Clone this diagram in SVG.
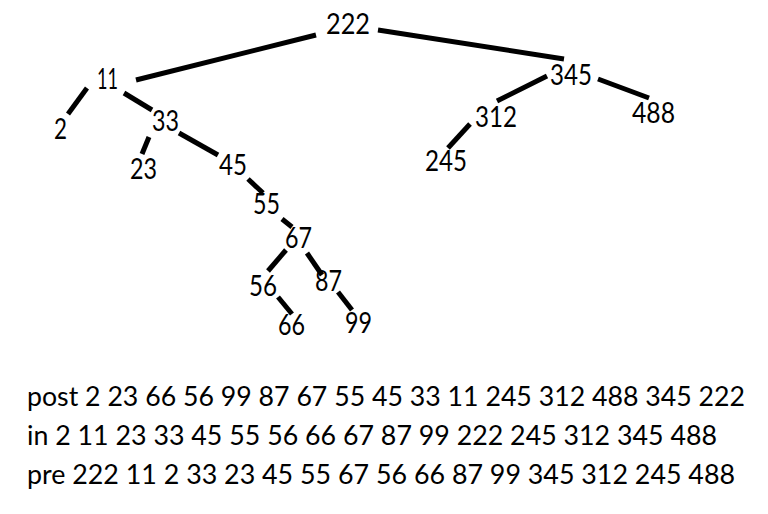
<svg xmlns="http://www.w3.org/2000/svg" width="768" height="514" viewBox="0 0 768 514">
<style>
.n{font-family:"Lato","Open Sans","Liberation Sans",sans-serif;font-size:28px;fill:#000;text-anchor:middle}
.t{font-family:"Lato","Open Sans","Liberation Sans",sans-serif;font-size:27px;fill:#000}
.e line{stroke:#000;stroke-width:5;stroke-linecap:butt}
</style>
<rect width="768" height="514" fill="#fff"/>
<g id="connectors" class="e">
<line x1="316" y1="35" x2="136" y2="80"/>
<line x1="378" y1="30" x2="564" y2="59"/>
<line x1="87" y1="88" x2="68" y2="114"/>
<line x1="124" y1="93" x2="152" y2="110"/>
<line x1="149" y1="137" x2="142" y2="154"/>
<line x1="179" y1="133" x2="218" y2="155"/>
<line x1="248" y1="179" x2="263" y2="193"/>
<line x1="282" y1="219" x2="292" y2="227"/>
<line x1="286" y1="250" x2="268" y2="271"/>
<line x1="307" y1="253" x2="322" y2="275"/>
<line x1="278" y1="297" x2="292" y2="314"/>
<line x1="338" y1="292" x2="352" y2="310"/>
<line x1="547" y1="76" x2="497" y2="101"/>
<line x1="598" y1="79" x2="649" y2="98"/>
<line x1="470" y1="124" x2="448" y2="148"/>
</g>
<g id="n222"><text class="n" x="348" y="34" textLength="44" lengthAdjust="spacingAndGlyphs">222</text></g>
<g id="n11"><text class="n" x="107.5" y="89" textLength="21" lengthAdjust="spacingAndGlyphs">11</text></g>
<g id="n2"><text class="n" x="60.5" y="139" textLength="13" lengthAdjust="spacingAndGlyphs">2</text></g>
<g id="n33"><text class="n" x="165.5" y="131" textLength="27" lengthAdjust="spacingAndGlyphs">33</text></g>
<g id="n23"><text class="n" x="143.5" y="179" textLength="27" lengthAdjust="spacingAndGlyphs">23</text></g>
<g id="n45"><text class="n" x="233" y="175" textLength="28" lengthAdjust="spacingAndGlyphs">45</text></g>
<g id="n55"><text class="n" x="266.5" y="214" textLength="27" lengthAdjust="spacingAndGlyphs">55</text></g>
<g id="n67"><text class="n" x="298.5" y="248" textLength="27" lengthAdjust="spacingAndGlyphs">67</text></g>
<g id="n56"><text class="n" x="263" y="296" textLength="28" lengthAdjust="spacingAndGlyphs">56</text></g>
<g id="n87"><text class="n" x="328.5" y="291" textLength="27" lengthAdjust="spacingAndGlyphs">87</text></g>
<g id="n66"><text class="n" x="291.5" y="335" textLength="27" lengthAdjust="spacingAndGlyphs">66</text></g>
<g id="n99"><text class="n" x="358.5" y="333" textLength="27" lengthAdjust="spacingAndGlyphs">99</text></g>
<g id="n345"><text class="n" x="571" y="85" textLength="42" lengthAdjust="spacingAndGlyphs">345</text></g>
<g id="n312"><text class="n" x="496" y="127" textLength="42" lengthAdjust="spacingAndGlyphs">312</text></g>
<g id="n488"><text class="n" x="653.5" y="123" textLength="43" lengthAdjust="spacingAndGlyphs">488</text></g>
<g id="n245"><text class="n" x="446" y="171" textLength="42" lengthAdjust="spacingAndGlyphs">245</text></g>
<g id="traversals">
<text class="t" x="27" y="406" textLength="718" lengthAdjust="spacingAndGlyphs">post 2 23 66 56 99 87 67 55 45 33 11 245 312 488 345 222</text>
<text class="t" x="27" y="445" textLength="690" lengthAdjust="spacingAndGlyphs">in 2 11 23 33 45 55 56 66 67 87 99 222 245 312 345 488</text>
<text class="t" x="27" y="484" textLength="708" lengthAdjust="spacingAndGlyphs">pre 222 11 2 33 23 45 55 67 56 66 87 99 345 312 245 488</text>
</g>
</svg>
